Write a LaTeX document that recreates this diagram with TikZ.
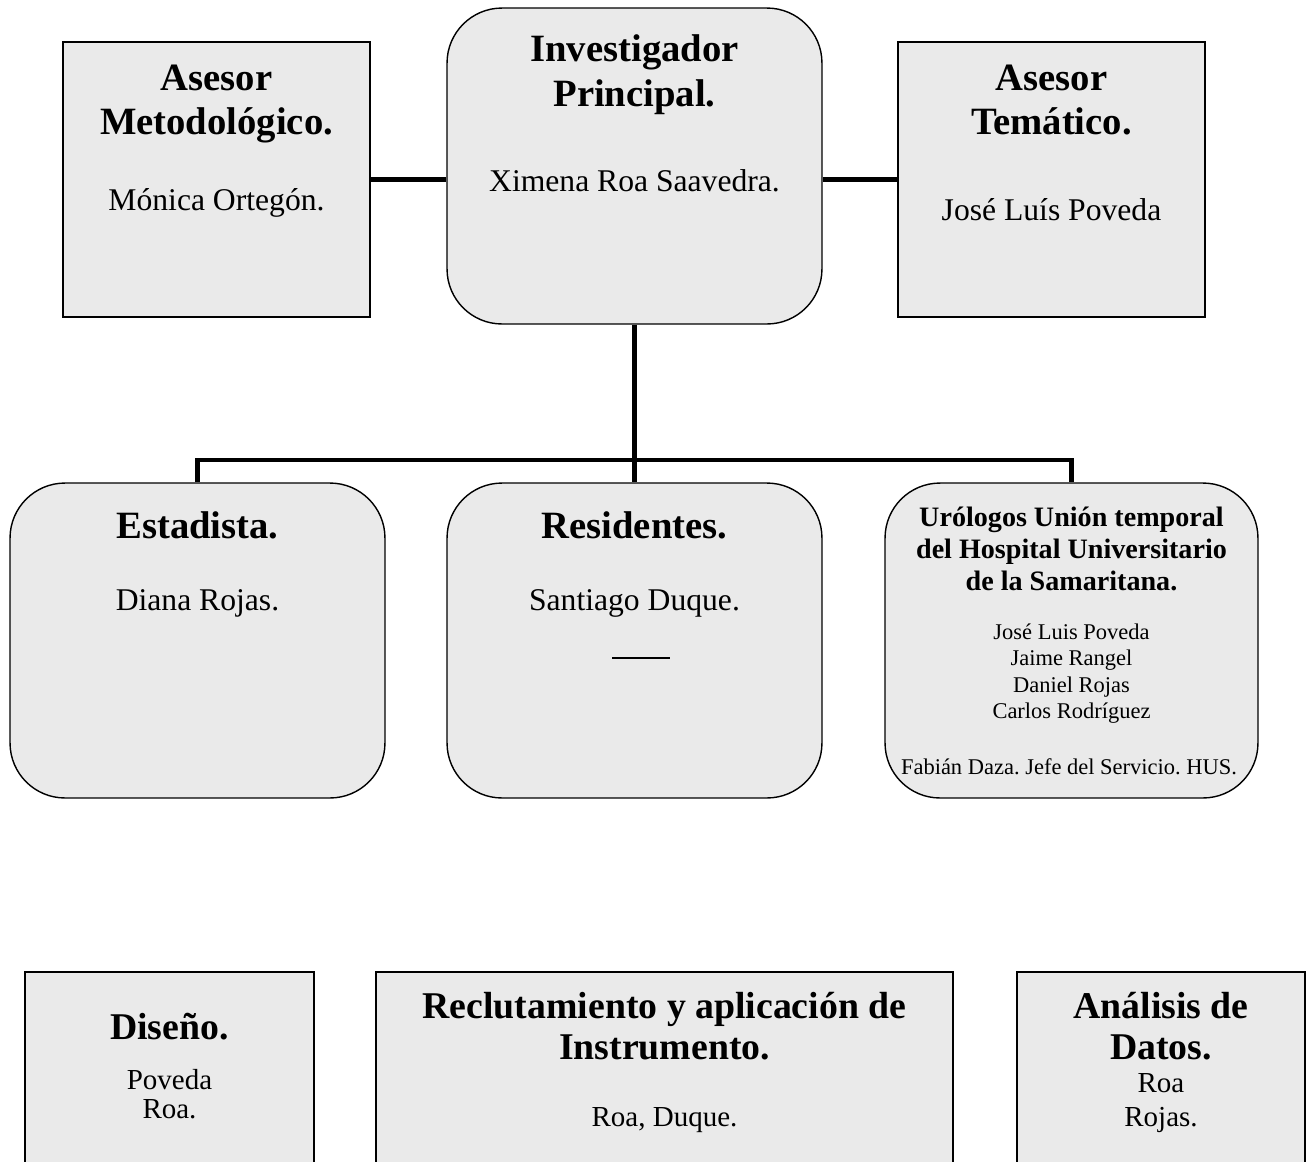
\documentclass[tikz,border=0pt]{standalone}
\usepackage{fontspec}
\setmainfont{Liberation Serif}
\usepackage{xcolor}
\usepackage{tikz}
\usetikzlibrary{calc,positioning}
\definecolor{boxGray}{HTML}{EAEAEA}
\frenchspacing

\begin{document}
\begin{tikzpicture}[x=0.02cm, y=-0.02cm,
    box/.style={draw, fill=boxGray, line width=0.8pt, inner sep=0pt},
    roundbox/.style={box, rounded corners=1.1cm},
    link/.style={line width=2.8pt},
    headA/.style={font=\fontsize{22}{25.6}\selectfont\bfseries, align=center},
    nameA/.style={font=\fontsize{18}{21}\selectfont, align=center},
    headB/.style={font=\fontsize{16}{18.2}\selectfont\bfseries, align=center},
    nameB/.style={font=\fontsize{12.8}{15}\selectfont, align=center},
    headC/.style={font=\fontsize{21.5}{23.3}\selectfont\bfseries, align=center},
    nameC/.style={font=\fontsize{16.5}{16.5}\selectfont, align=center}]
        \useasboundingbox (0,0) rectangle (1309,1161);
        \clip (0,0) rectangle (1309,1161);
        % top row
        \node[box, minimum width=6.14cm, minimum height=5.5cm] (metodo) at (216.5,179.5) {};
        \node[roundbox, minimum width=7.5cm, minimum height=6.32cm] (invest) at (634.5,166) {};
        \node[box, minimum width=6.14cm, minimum height=5.5cm] (tematico) at (1051.5,179.5) {};
        % middle row
        \node[roundbox, minimum width=7.5cm, minimum height=6.3cm] (estad) at (197.5,640.5) {};
        \node[roundbox, minimum width=7.5cm, minimum height=6.3cm] (resid) at (634.5,640.5) {};
        \node[roundbox, minimum width=7.46cm, minimum height=6.3cm] (urolog) at (1071.5,640.5) {};
        % bottom row (cut by the page)
        \node[box, minimum width=5.78cm, minimum height=4.56cm] (diseno) at (169.5,1086) {};
        \node[box, minimum width=11.54cm, minimum height=4.56cm] (reclut) at (664.5,1086) {};
        \node[box, minimum width=5.76cm, minimum height=4.56cm] (analis) at (1161,1086) {};

        \draw[link] (metodo.east) -- (metodo.east -| invest.west);
        \draw[link] (tematico.west) -- (tematico.west -| invest.east);
        \coordinate (bus) at (634.5,460);
        \draw[link] (invest.south) -- (bus);
        \draw[link] (estad.north) -- (estad.north |- bus) -- (urolog.north |- bus) -- (urolog.north);
        \draw[link] (bus) -- (resid.north);

        \node[headA] (metodoT) at (216.5,104) {Asesor\\Metodológico.};
        \node[nameA] (metodoN) at (216.5,203) {Mónica Ortegón.};
        \node[headA] (investT) at (634.5,75) {Investigador\\Principal.};
        \node[nameA] (investN) at (634.5,181) {Ximena Roa Saavedra.};
        \node[headA] (tematT) at (1051.5,100) {Asesor\\Temático.};
        \node[nameA] (tematN) at (1051.5,210) {José Luís Poveda};

        \node[headA] (estadT) at (197.5,525) {Estadista.};
        \node[nameA] (estadN) at (197.5,603) {Diana Rojas.};
        \node[headA] (residT) at (634.5,525) {Residentes.};
        \node[nameA] (residN) at (634.5,603) {Santiago Duque.};
        \node[inner sep=0pt] (residL) at (641,658) {\rule{1.16cm}{0.7pt}};
        \node[headB] (urologT) at (1071.5,549) {Urólogos Unión temporal\\del Hospital Universitario\\de la Samaritana.};
        \node[nameB] (urologN) at (1071.5,673.5) {José Luis Poveda\\Jaime Rangel\\Daniel Rojas\\Carlos Rodríguez};
        \node[nameB] (urologJ) at (1069,767) {Fabián Daza. Jefe del Servicio. HUS.};

        \node[headC] (disenoT) at (169.5,1027) {Diseño.};
        \node[nameC] (disenoN) at (169.5,1094.5) {Poveda\\Roa.};
        \node[headC] (reclutT) at (664.5,1026.5) {Reclutamiento y aplicación de\\Instrumento.};
        \node[nameC] (reclutN) at (664.5,1120) {Roa, Duque.};
        \node[headC] (analisT) at (1161,1026.5) {Análisis de\\Datos.};
        \node[nameC, font=\fontsize{16.5}{19.3}\selectfont] (analisN) at (1161,1103) {Roa\\Rojas.};
    \end{tikzpicture}
\end{document}
